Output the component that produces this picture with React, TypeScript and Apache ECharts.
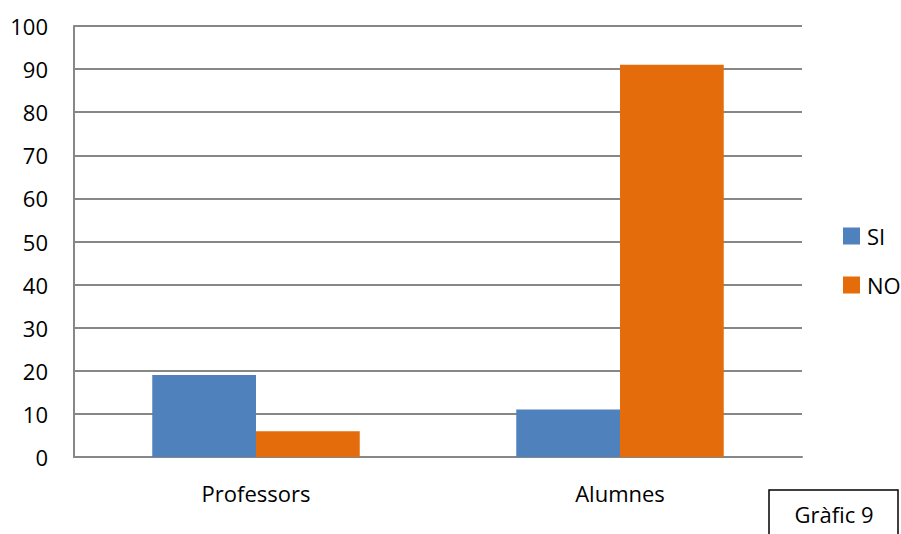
import React, { useEffect, useRef } from "react";
import * as echarts from "echarts";

const categories = ["Professors", "Alumnes"];
const siValues = [19, 11];
const noValues = [6, 91];
const seriesNames = ["SI", "NO"];

const FONT = "'Open Sans', 'Liberation Sans', sans-serif";

export default function App() {
  const ref = useRef<HTMLDivElement>(null);

  useEffect(() => {
    if (!ref.current) return;
    const chart = echarts.init(ref.current, null, { renderer: "svg" });
    chart.setOption({
      animation: false,
      backgroundColor: "#ffffff",
      grid: { left: 74, right: 99, top: 26, bottom: 77, containLabel: false },
      legend: {
        orient: "vertical",
        left: 843,
        top: 225,
        padding: 0,
        itemWidth: 17,
        itemHeight: 17,
        itemGap: 27,
        icon: "rect",
        textStyle: {
          fontFamily: FONT,
          fontSize: 22,
          lineHeight: 22,
          color: "#000",
          padding: [0, 0, 0, 2],
        },
        data: seriesNames,
      },
      xAxis: {
        type: "category",
        data: categories,
        axisLine: { show: true, lineStyle: { color: "#878787", width: 2 } },
        axisTick: { show: false },
        axisLabel: { fontFamily: FONT, fontSize: 22, color: "#000", margin: 25 },
      },
      yAxis: {
        type: "value",
        min: 0,
        max: 100,
        interval: 10,
        axisLine: { show: true, lineStyle: { color: "#878787", width: 2 } },
        axisTick: { show: false },
        splitLine: { lineStyle: { color: "#878787", width: 2 } },
        axisLabel: { fontFamily: FONT, fontSize: 22, color: "#000", margin: 26 },
      },
      series: [
        {
          name: seriesNames[0],
          type: "bar",
          data: siValues,
          barGap: "0%",
          barCategoryGap: "43%",
          itemStyle: { color: "#4f81bd" },
        },
        {
          name: seriesNames[1],
          type: "bar",
          data: noValues,
          itemStyle: { color: "#e46c0a" },
        },
      ],
      graphic: [
        {
          type: "rect",
          shape: { x: 769, y: 490, width: 129, height: 60 },
          style: { fill: "#fff", stroke: "#000", lineWidth: 1.5 },
        },
        {
          type: "text",
          x: 834,
          y: 514,
          style: {
            text: "Gràfic 9",
            fontFamily: FONT,
            fontSize: 22,
            fill: "#000",
            align: "center",
            verticalAlign: "middle",
          },
        },
      ],
    });
    return () => chart.dispose();
  }, []);

  return <div ref={ref} style={{ width: 901, height: 534, position: "absolute", left: 0, top: 0 }} />;
}
